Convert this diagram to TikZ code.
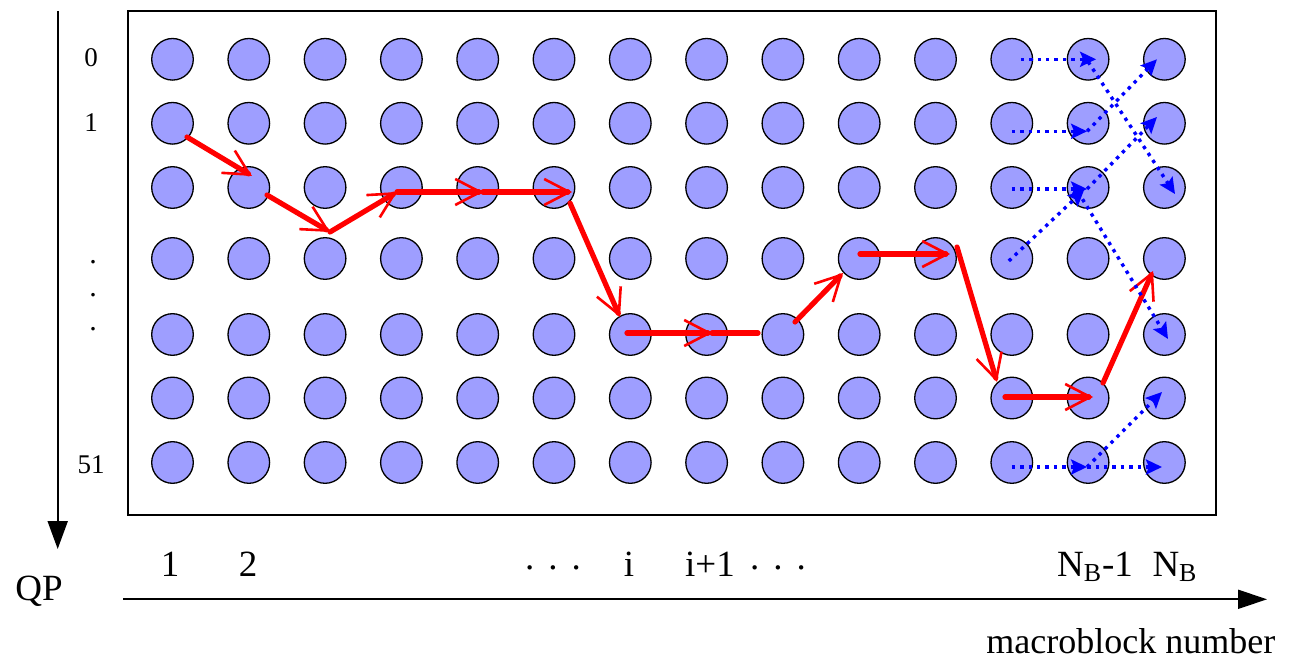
\documentclass[tikz,border=0pt]{standalone}
\usepackage{fontspec}
\setmainfont{Liberation Serif}
\usetikzlibrary{arrows.meta,calc}
\definecolor{dotfill}{RGB}{158,158,255}
\definecolor{pathred}{RGB}{255,0,0}
\definecolor{pathblue}{RGB}{0,0,255}
\newcommand{\mydots}{\raisebox{3.3pt}{.}\hspace{7pt}\raisebox{3.3pt}{.}\hspace{7pt}\raisebox{3.3pt}{.}}
\begin{document}
\begin{tikzpicture}[x=0.5pt,y=-0.5pt,
  mb/.style={circle,draw=black,line width=0.65pt,fill=dotfill,minimum size=20.8pt,inner sep=0pt},
  redarrow/.style={draw=pathred,line width=2.6pt,line cap=round,-{Straight Barb[length=12.5pt,width=13pt,line width=1.3pt]}},
  redline/.style={draw=pathred,line width=2.6pt,line cap=round},
  bluearrow/.style={draw=pathblue,line width=1.7pt,dash pattern=on 1.7pt off 2.5pt,-{Stealth[length=8pt,width=7.5pt,inset=1.5pt]}},
  rowlabel/.style={font=\fontsize{13.5}{16}\selectfont,inner sep=0pt},
  collabel/.style={font=\fontsize{18.5}{22}\selectfont,inner sep=0pt,anchor=base},
  axisline/.style={draw=black,line width=1pt}
]
\useasboundingbox (0,0) rectangle (1292,658);

% frame
\node[draw=black,line width=0.9pt,minimum width=544pt,minimum height=252pt,inner sep=0pt,anchor=north west] (frame) at (127,10) {};

% grid of circles
\foreach \r/\y in {1/59.3,2/123.3,3/187.5,4/258.5,5/334.5,6/398,7/462.5}{
  \foreach \c in {1,...,14}{
    \node[mb] (n-\r-\c) at ({172.5+76.3*(\c-1)},\y) {};
  }
}

% red path
\draw[redarrow] ($(n-2-1)+(14.5,13.7)$) -- ($(n-3-2)+(3.2,-11.5)$);
\draw[redarrow] ($(n-3-2)+(18.2,7.5)$) -- ($(n-4-3)+(4.9,-26.5)$);
\draw[redarrow] ($(n-4-3)+(4.9,-26.5)$) -- ($(n-3-4)+(-4.4,4.5)$);
\draw[redarrow] ($(n-3-4)+(-4.4,4.5)$) -- ($(n-3-5)+(5.3,4.5)$);
\draw[redarrow] ($(n-3-5)+(5.3,4.5)$) -- ($(n-3-6)+(18,4.5)$);
\draw[redarrow] ($(n-3-6)+(16,15.5)$) -- ($(n-5-7)+(-10.3,-17.5)$);
\draw[redarrow] ($(n-5-7)+(-3.3,-1.5)$) -- ($(n-5-8)+(5.4,-1.5)$);
\draw[redline] ($(n-5-8)+(5.4,-1.5)$) -- ($(n-5-9)+(-24.9,-1.5)$);
\draw[redarrow] ($(n-5-9)+(12.1,-12.5)$) -- ($(n-4-10)+(-16.2,14.5)$);
\draw[redarrow] ($(n-4-10)+(0.8,-4.5)$) -- ($(n-4-11)+(14.5,-4.5)$);
\draw[redarrow] ($(n-4-11)+(21.5,-11.5)$) -- ($(n-6-12)+(-14.8,-16)$);
\draw[redarrow] ($(n-6-12)+(-6.8,-1)$) -- ($(n-6-13)+(4.9,-1)$);
\draw[redarrow] ($(n-6-13)+(14.9,-15)$) -- ($(n-4-14)+(-11.4,12.5)$);

% blue dotted alternatives
\draw[bluearrow] ($(n-1-12)+(9,0)$) -- ($(n-1-13)+(8,0)$);
\draw[bluearrow] ($(n-2-12)+(0,8)$) -- ($(n-2-13)+(-1,8)$);
\draw[bluearrow] ($(n-3-12)+(0,1.5)$) -- ($(n-3-13)+(-1,1.5)$);
\draw[bluearrow] ($(n-1-13)+(0,2.5)$) -- ($(n-3-14)+(10.6,6.5)$);
\draw[bluearrow] ($(n-2-13)+(-1,8)$) -- ($(n-1-14)+(-7.4,0)$);
\draw[bluearrow] ($(n-3-13)+(-1,1.5)$) -- ($(n-2-14)+(-7.4,-6.3)$);
\draw[bluearrow] ($(n-4-12)+(-3,2.5)$) -- ($(n-3-13)+(-4,2.5)$);
\draw[bluearrow] ($(n-3-13)+(-10,4.5)$) -- ($(n-5-14)+(3.6,4.5)$);
\draw[bluearrow] ($(n-7-12)+(0,4.5)$) -- ($(n-7-13)+(-1,4.5)$);
\draw[bluearrow] ($(n-7-13)+(-1,4.5)$) -- ($(n-7-14)+(-2.4,4.5)$);
\draw[bluearrow] ($(n-7-13)+(-1,4.5)$) -- ($(n-6-14)+(-2.4,-6)$);

% QP axis
\coordinate (qtop) at (57.7,11);
\coordinate (qend) at (57.7,549);
\draw[axisline,-{Triangle[length=14pt,width=10pt]}] (qtop) -- (qend);
\node[font=\fontsize{18.5}{22}\selectfont,inner sep=0pt,anchor=base] (qp) at (39,600) {QP};
\node[rowlabel] (l0) at (91,58) {0};
\node[rowlabel] (l1) at (91,122.7) {1};
\node[rowlabel,font=\fontsize{15}{18}\selectfont] (ld1) at (93,262) {.};
\node[rowlabel,font=\fontsize{15}{18}\selectfont] (ld2) at (93,295) {.};
\node[rowlabel,font=\fontsize{15}{18}\selectfont] (ld3) at (93,329) {.};
\node[rowlabel] (l51) at (91,465) {51};

% macroblock axis
\coordinate (mstart) at (123,599.3);
\coordinate (mend) at (1267,599.3);
\draw[axisline,-{Triangle[length=14.5pt,width=9.5pt]}] (mstart) -- (mend);
\node[collabel] (x1) at (170,576) {1};
\node[collabel] (x2) at (248,576) {2};
\node[collabel] (xd1) at (553,576) {\mydots};
\node[collabel] (xi) at (629,576) {i};
\node[collabel] (xi1) at (710,576) {i+1};
\node[collabel] (xd2) at (778,576) {\mydots};
\node[collabel] (xnb1) at (1095,576) {N\textsubscript{B}-1};
\node[collabel] (xnb) at (1175,576) {N\textsubscript{B}};
\node[font=\fontsize{18}{22}\selectfont,inner sep=0pt,anchor=base west] (mlabel) at (986,653) {macroblock number};
\end{tikzpicture}
\end{document}
